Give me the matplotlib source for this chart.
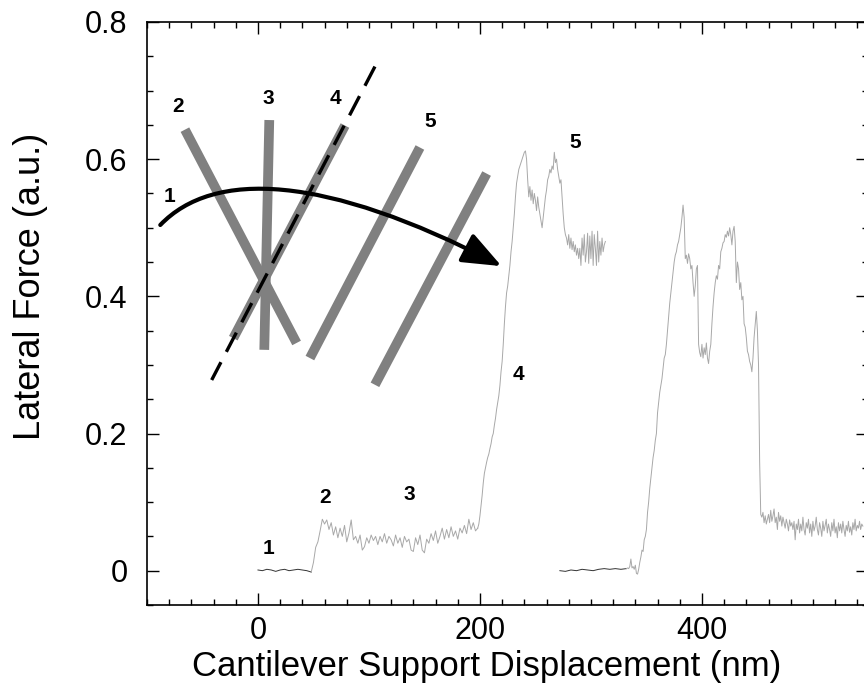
import numpy as np
import matplotlib
matplotlib.use('Agg')
import matplotlib.pyplot as plt
from matplotlib.path import Path
from matplotlib.patches import FancyArrowPatch

plt.rcParams['font.family'] = ['Liberation Sans', 'DejaVu Sans']

# ---- scan 1 ----
# flat part before contact (dark), x from 0 step 4 nm
scan1_flat = [0.001, 0.000, 0.002, 0.001, -0.001, 0.001, 0.002, 0.000, 0.001, 0.002, 0.001, 0.000, -0.002]
# plateau, x from 48 step 2 nm
scan1_plateau = [-0.002, 0.012, 0.034, 0.042, 0.058, 0.075, 0.068, 0.074, 0.060, 0.070,
                 0.052, 0.064, 0.048, 0.062, 0.050, 0.066, 0.042, 0.055, 0.074, 0.045,
                 0.050, 0.040, 0.052, 0.030, 0.035, 0.048, 0.040, 0.052, 0.044, 0.050,
                 0.038, 0.050, 0.042, 0.054, 0.040, 0.050, 0.045, 0.036, 0.052, 0.040,
                 0.048, 0.034, 0.050, 0.042, 0.046, 0.030, 0.028, 0.048, 0.038, 0.052,
                 0.030, 0.026, 0.046, 0.040, 0.054, 0.044, 0.058, 0.040, 0.050, 0.062,
                 0.046, 0.060, 0.048, 0.064, 0.050, 0.058, 0.046, 0.062, 0.055, 0.066,
                 0.054, 0.075, 0.060, 0.070, 0.058, 0.062]
# rise, peaks and tail, x from 198 step 1 nm
scan1_peak = [0.062, 0.068, 0.080, 0.095, 0.110, 0.128, 0.142, 0.150, 0.158, 0.165,
              0.170, 0.178, 0.185, 0.195, 0.200, 0.212, 0.222, 0.235, 0.245, 0.255,
              0.270, 0.290, 0.305, 0.330, 0.360, 0.385, 0.405, 0.415, 0.430, 0.445,
              0.465, 0.480, 0.500, 0.520, 0.545, 0.565, 0.575, 0.585, 0.590, 0.595,
              0.600, 0.605, 0.610, 0.612, 0.600, 0.570, 0.545, 0.560, 0.540, 0.555,
              0.535, 0.550, 0.540, 0.525, 0.545, 0.530, 0.520, 0.510, 0.500, 0.515,
              0.530, 0.545, 0.555, 0.570, 0.575, 0.585, 0.580, 0.590, 0.585, 0.610,
              0.595, 0.600, 0.585, 0.575, 0.565, 0.570, 0.545, 0.520, 0.500, 0.490,
              0.485, 0.475, 0.490, 0.470, 0.485, 0.468, 0.480, 0.465, 0.475, 0.460,
              0.470, 0.455, 0.470, 0.445, 0.485, 0.460, 0.490, 0.450, 0.465, 0.492,
              0.448, 0.488, 0.455, 0.495, 0.445, 0.490, 0.470, 0.445, 0.495, 0.450,
              0.480, 0.460, 0.485, 0.465, 0.475, 0.480]

# ---- scan 2 ----
# flat part (dark), x from 272 step 5 nm
scan2_flat = [0.000, -0.001, 0.001, 0.000, 0.002, 0.001, 0.000, 0.002, 0.003, 0.002, 0.003, 0.002, 0.003]
# everything after, x from 332 step 1 nm
scan2_main = [0.003, 0.004, 0.003, 0.006, 0.017, 0.004, 0.006, 0.002, 0.008, -0.004,
              -0.005, 0.002, 0.012, 0.020, 0.030, 0.028, 0.045, 0.050, 0.060, 0.085,
              0.100, 0.120, 0.135, 0.150, 0.165, 0.175, 0.190, 0.200, 0.230, 0.245,
              0.260, 0.270, 0.280, 0.295, 0.310, 0.315, 0.330, 0.350, 0.370, 0.390,
              0.405, 0.420, 0.435, 0.450, 0.460, 0.465, 0.475, 0.480, 0.490, 0.500,
              0.515, 0.533, 0.515, 0.455, 0.460, 0.448, 0.462, 0.455, 0.440, 0.445,
              0.420, 0.400, 0.415, 0.440, 0.445, 0.330, 0.318, 0.312, 0.330, 0.310,
              0.325, 0.315, 0.332, 0.310, 0.302, 0.320, 0.330, 0.360, 0.385, 0.405,
              0.420, 0.430, 0.425, 0.445, 0.440, 0.465, 0.470, 0.478, 0.480, 0.490,
              0.486, 0.495, 0.488, 0.500, 0.490, 0.475, 0.495, 0.502, 0.480, 0.420,
              0.450, 0.440, 0.410, 0.420, 0.395, 0.400, 0.360, 0.355, 0.340, 0.320,
              0.315, 0.305, 0.300, 0.290, 0.310, 0.340, 0.360, 0.378, 0.350, 0.300,
              0.160, 0.082, 0.078, 0.085,
              0.070, 0.080, 0.068, 0.075, 0.082, 0.070, 0.088, 0.072, 0.080, 0.090,
              0.070, 0.078, 0.060, 0.085, 0.072, 0.080, 0.065, 0.078, 0.070, 0.062,
              0.075, 0.068, 0.058, 0.074, 0.065, 0.070, 0.060, 0.072, 0.045, 0.068,
              0.060, 0.075, 0.055, 0.068, 0.058, 0.078, 0.060, 0.052, 0.070, 0.062,
              0.075, 0.055, 0.068, 0.050, 0.072, 0.058, 0.065, 0.078, 0.060, 0.052,
              0.070, 0.062, 0.050, 0.072, 0.058, 0.066, 0.075, 0.055, 0.068, 0.060,
              0.050, 0.070, 0.058, 0.075, 0.055, 0.064, 0.048, 0.070, 0.058, 0.068,
              0.055, 0.072, 0.060, 0.050, 0.066, 0.058, 0.072, 0.056, 0.064, 0.052,
              0.070, 0.060, 0.075, 0.058, 0.066, 0.062, 0.072, 0.060, 0.068, 0.065]

# ---- schematic inset (data coordinates) ----
bars = [((-65.8, 0.643), (34.8, 0.332)),
        ((10.2, 0.657), (5.7, 0.322)),
        ((78.4, 0.649), (-22.2, 0.339)),
        ((145.9, 0.617), (46.8, 0.310)),
        ((206.0, 0.579), (105.4, 0.271))]
dash_line = ((105.4, 0.735), (-41.7, 0.278))
arrow_pts = [(-88, 0.504), (-40, 0.585), (60, 0.578), (219.5, 0.444)]
inset_labels = [('1', -80, 0.546), ('2', -72.4, 0.677), ('3', 9.3, 0.688),
                ('4', 69.4, 0.689), ('5', 155, 0.655)]
curve_labels = [('1', 9.3, 0.032), ('2', 60.4, 0.106), ('3', 136.3, 0.111),
                ('4', 234.5, 0.286), ('5', 285.6, 0.624)]

fig = plt.figure(figsize=(8.64, 6.91), dpi=100)
ax = fig.add_axes([0.1701, 0.1245, 0.835, 0.8437])

trace_c = '#a8a8a8'
flat_c = '#333333'

ax.plot(0 + 4 * np.arange(len(scan1_flat)), scan1_flat, color=flat_c, lw=0.7)
ax.plot(48 + 2 * np.arange(len(scan1_plateau)), scan1_plateau, color=trace_c, lw=0.7)
ax.plot(198 + np.arange(len(scan1_peak)), scan1_peak, color=trace_c, lw=0.7)
ax.plot(272 + 5 * np.arange(len(scan2_flat)), scan2_flat, color=flat_c, lw=0.7)
ax.plot(332 + np.arange(len(scan2_main)), scan2_main, color=trace_c, lw=0.7)

for (x0, y0), (x1, y1) in bars:
    ax.plot([x0, x1], [y0, y1], color='#808080', lw=7, solid_capstyle='butt', zorder=3)

ax.plot([dash_line[0][0], dash_line[1][0]], [dash_line[0][1], dash_line[1][1]],
        color='black', lw=2.4, linestyle=(0, (6.5, 3.5)), zorder=4)

path = Path(arrow_pts, [Path.MOVETO, Path.CURVE4, Path.CURVE4, Path.CURVE4])
arr = FancyArrowPatch(path=path, arrowstyle='-|>,head_length=1.5,head_width=0.6',
                      mutation_scale=16, color='black', lw=3, zorder=5)
ax.add_patch(arr)

for t, x, y in inset_labels + curve_labels:
    ax.text(x, y, t, fontsize=15, fontweight='bold', ha='center', va='center', zorder=6)

ax.set_xlim(-100, 550)
ax.set_ylim(-0.05, 0.8)
ax.set_xticks([0, 200, 400])
ax.set_xticks(np.arange(-100, 551, 20), minor=True)
ax.set_yticks([0, 0.2, 0.4, 0.6, 0.8])
ax.set_yticklabels(['0', '0.2', '0.4', '0.6', '0.8'])
ax.set_yticks(np.arange(-0.05, 0.801, 0.05), minor=True)
ax.tick_params(which='both', direction='in', top=True, right=True, width=1)
ax.tick_params(which='major', length=8.5, labelsize=22)
ax.tick_params(which='minor', length=4.3)
ax.tick_params(axis='x', pad=8)
ax.tick_params(axis='y', pad=14)
for s in ax.spines.values():
    s.set_linewidth(1.2)

ax.set_xlabel('Cantilever Support Displacement (nm)', fontsize=25, va='center')
ax.set_ylabel('Lateral Force (a.u.)', fontsize=26, va='center')
ax.xaxis.set_label_coords(0.471, -0.106)
ax.yaxis.set_label_coords(-0.162, 0.547)

fig.savefig('out.png', dpi=100)
